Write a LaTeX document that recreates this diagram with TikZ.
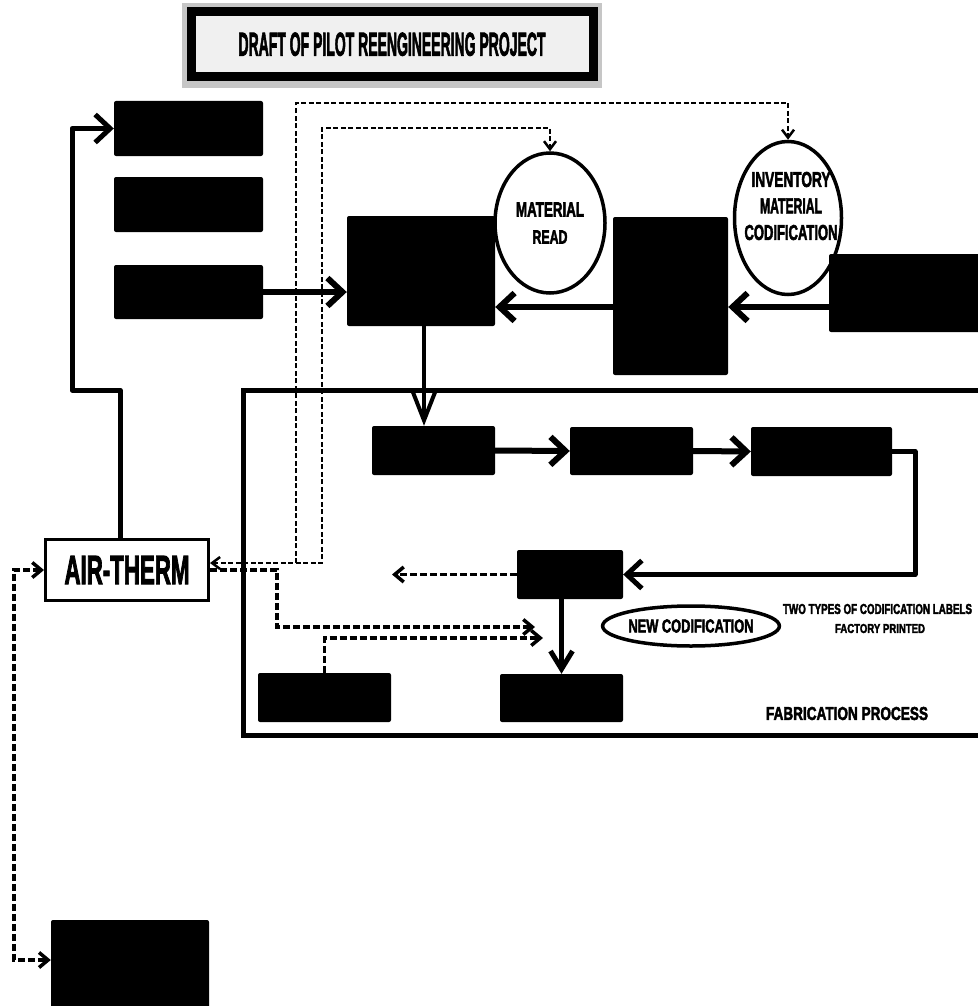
\documentclass[tikz,border=0pt]{standalone}
\usepackage{fontspec}
\setmainfont{Liberation Sans}[BoldFeatures={FakeBold=3}]
\usetikzlibrary{arrows.meta,shapes.geometric}
\newcommand{\captxt}[3]{\resizebox{#1pt}{#2pt}{\bfseries #3}}

\begin{document}
\begin{tikzpicture}[x=1pt,y=-1pt,
  blk/.style={fill=black,rounded corners=2pt,inner sep=0pt},
  oval/.style={ellipse,draw,fill=white,line width=3.5pt,inner sep=0pt},
  flow/.style={line width=6pt,line join=round,>={Straight Barb[length=15pt,width=28pt]}},
  drop/.style={line width=4pt,>={Straight Barb[length=28pt,width=22pt]}},
  dropb/.style={line width=5pt,>={Straight Barb[length=18pt,width=22pt]}},
  dashline/.style={line width=3.5pt,dash pattern=on 7pt off 3pt,>={Straight Barb[length=9pt,width=15pt]}},
  thindash/.style={line width=2.5pt,dash pattern=on 5pt off 2.5pt,>={Straight Barb[length=8pt,width=12pt]}}]
  \useasboundingbox (0,0) rectangle (977,1006);

  % Draw title
  \fill[gray!45] (182,3) rectangle (602,88);
  \node[draw,line width=9pt,fill=gray!12,minimum width=402pt,minimum height=65.5pt,inner sep=0pt] (title) at (392,44.25)
    {\captxt{307}{23}{DRAFT OF PILOT REENGINEERING PROJECT}};

  % Draw left column
  \node[blk,minimum width=149pt,minimum height=55pt] (src1) at (188.5,128.5) {};
  \node[blk,minimum width=149pt,minimum height=55pt] (src2) at (188.5,204.5) {};
  \node[blk,minimum width=149pt,minimum height=54pt] (src3) at (188.5,292) {};

  % Draw upper row
  \node[blk,minimum width=148pt,minimum height=110pt] (store) at (421,271) {};
  \node[oval,minimum width=110pt,minimum height=140pt,align=center,font=\fontsize{10pt}{27pt}\selectfont] (matread) at (550,223)
    {\captxt{68}{14}{MATERIAL}\\\captxt{35}{13}{READ}};
  \node[blk,minimum width=115pt,minimum height=158pt] (rack) at (670.5,296) {};
  \node[oval,minimum width=107pt,minimum height=153pt] (invent) at (788,218) {};
  \node[align=center,inner sep=0pt,font=\fontsize{10pt}{26.5pt}\selectfont] (inventtxt) at (791,206)
    {\captxt{79}{15}{INVENTORY}\\\captxt{62}{15}{MATERIAL}\\\captxt{93}{15}{CODIFICATION}};
  \node[blk,minimum width=161pt,minimum height=78pt] (supply) at (909.5,293) {};

  % Draw fabrication frame
  \draw[line width=5pt] (243,390) rectangle (1000,735);
  \node[blk,minimum width=123pt,minimum height=49pt] (fab1) at (433.5,450.5) {};
  \node[blk,minimum width=123pt,minimum height=48pt] (fab2) at (631.5,451) {};
  \node[blk,minimum width=141pt,minimum height=49pt] (fab3) at (821.5,451.5) {};
  \node[blk,minimum width=106pt,minimum height=49pt] (fab4) at (570,574.5) {};
  \node[blk,minimum width=123pt,minimum height=48pt] (fab5) at (561.5,698) {};
  \node[blk,minimum width=133pt,minimum height=49pt] (fab6) at (324.5,697.5) {};
  \node[ellipse,draw,line width=3.5pt,minimum width=155pt,minimum height=40pt,inner sep=0pt] (newcod) at (691,626)
    {\captxt{125}{13}{NEW CODIFICATION}};
  \node[inner sep=0pt] (labtypes) at (877.5,609) {\captxt{189}{10}{TWO TYPES OF CODIFICATION LABELS}};
  \node[inner sep=0pt] (labfactory) at (880,628.5) {\captxt{90}{9}{FACTORY PRINTED}};
  \node[inner sep=0pt] (fabtitle) at (847,713.5) {\captxt{162}{13}{FABRICATION PROCESS}};

  % Draw air-therm and lower box
  \node[draw,line width=3pt,fill=white,minimum width=163pt,minimum height=61pt,inner sep=0pt] (air) at (127,570)
    {\captxt{125}{28}{AIR-THERM}};
  \node[blk,minimum width=158pt,minimum height=92pt] (lowbox) at (130,966) {};

  % Solid connectors
  \draw[flow,->,line width=5pt] ([xshift=-7pt]air.north) |- (72,390) |- (src1.west);
  \draw[flow,->] (src3.east) -- (src3.east -| store.west);
  \coordinate (lane) at (0,307);
  \draw[flow,->] (supply.west |- lane) -- (rack.east |- lane);
  \draw[flow,->] (rack.west |- lane) -- (store.east |- lane);
  \draw[drop,->] ([xshift=3pt]store.south) -- ([xshift=3pt]store.south |- fab1.north);
  \draw[flow,->] (fab1.east) -- (fab2.west);
  \draw[flow,->] (fab2.east) -- (fab3.west);
  \draw[flow,->,line width=5pt] (fab3.east) -- (915,451.5) |- (fab4.east);
  \draw[dropb,->] (fab4.south -| fab5.north) -- (fab5.north);

  % Dashed connectors
  \coordinate (split) at (296,563);
  \coordinate (loose) at (392,574.5);
  \coordinate (join1) at (535,627);
  \coordinate (join2) at (543,638);
  \draw[thindash,<->] ([yshift=7pt]air.east) -| (322,128) -| (matread.north);
  \draw[thindash,->] (split) -- (296,103) -| (invent.north);
  \draw[dashline,->] (air.east) -| (277,627) -- (join1);
  \draw[dashline,->] (fab6.north) |- (join2);
  \draw[dashline,->] (fab4.west) -- (loose);
  \draw[dashline,<->] (air.west) -- (14,570) |- ([yshift=6pt]lowbox.west);
\end{tikzpicture}
\end{document}
